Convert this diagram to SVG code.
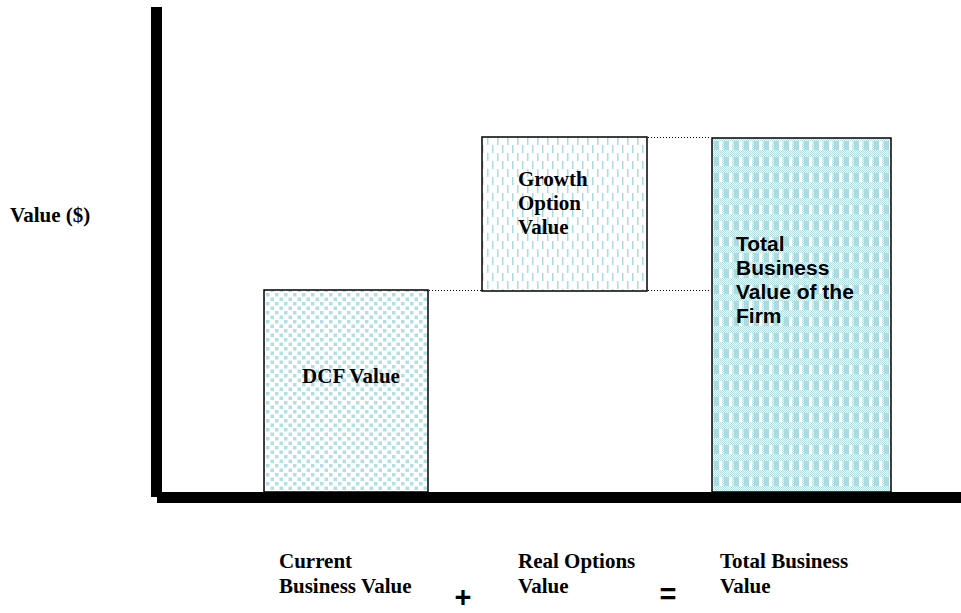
<svg xmlns="http://www.w3.org/2000/svg" width="961" height="613" viewBox="0 0 961 613">
<style>
.serif{font-family:"Liberation Serif","Times New Roman",serif;font-weight:bold;font-size:21px;fill:#000}
.sans{font-family:"Liberation Sans",Arial,sans-serif;font-weight:bold;font-size:21px;fill:#000}
.sym{font-family:"Liberation Sans",Arial,sans-serif;font-weight:bold;font-size:29px;fill:#000}
.box{stroke:#000;stroke-width:1.5}
.dot{stroke:#000;stroke-width:1;stroke-dasharray:1,2;fill:none}
</style>
<defs>
<pattern id="pDots" width="9" height="9" patternUnits="userSpaceOnUse">
<rect width="9" height="9" fill="#fff"/>
<rect x="0.5" y="0.5" width="3.5" height="3.5" fill="#b2dfe2"/>
<rect x="5" y="5" width="3.5" height="3.5" fill="#b2dfe2"/>
</pattern>
<pattern id="pDash" width="10" height="16" patternUnits="userSpaceOnUse">
<rect width="10" height="16" fill="#fff"/>
<rect x="2" y="1" width="1.5" height="8" fill="#a9dbe0"/>
<rect x="7" y="9" width="1.5" height="8" fill="#a9dbe0"/>
<rect x="7" y="-7" width="1.5" height="8" fill="#a9dbe0"/>
</pattern>
<pattern id="pCheck" width="2" height="2" patternUnits="userSpaceOnUse">
<rect width="2" height="2" fill="#fff"/>
<rect width="1" height="1" fill="#b2dfe2"/>
<rect x="1" y="1" width="1" height="1" fill="#b2dfe2"/>
</pattern>
<pattern id="pPlaid" x="712" y="138" width="10" height="16" patternUnits="userSpaceOnUse">
<rect width="10" height="16" fill="url(#pCheck)"/>
<rect x="2" y="3" width="5" height="9" fill="#a9dbe0"/>
<rect x="7" y="3" width="3" height="9" fill="#fff"/>
</pattern>
</defs>

<g id="axes">
<rect x="151" y="7" width="11" height="490" fill="#000"/>
<rect x="157" y="492" width="804" height="11" fill="#000"/>
</g>

<g id="connectors">
<line class="dot" x1="429" y1="290.5" x2="482" y2="290.5"/>
<line class="dot" x1="648" y1="137.5" x2="711" y2="137.5"/>
<line class="dot" x1="648" y1="290.5" x2="711" y2="290.5"/>
</g>

<g id="dcf">
<rect class="box" x="264" y="290" width="164" height="202" fill="url(#pDots)"/>
<text class="serif" x="351" y="383" text-anchor="middle">DCF Value</text>
</g>

<g id="growth">
<rect class="box" x="482" y="137" width="165" height="154" fill="url(#pDash)"/>
<text class="serif" x="518" y="186">Growth</text>
<text class="serif" x="518" y="210">Option</text>
<text class="serif" x="518" y="234">Value</text>
</g>

<g id="total">
<rect class="box" x="712" y="138" width="179" height="354" fill="url(#pPlaid)"/>
<text class="sans" x="736" y="251">Total</text>
<text class="sans" x="736" y="275">Business</text>
<text class="sans" x="736" y="299">Value of the</text>
<text class="sans" x="736" y="323">Firm</text>
</g>

<g id="labels">
<text class="serif" x="10" y="222">Value ($)</text>
<text class="serif" x="279" y="568">Current</text>
<text class="serif" x="279" y="593">Business Value</text>
<text class="sym" x="463" y="606.5" text-anchor="middle">+</text>
<text class="serif" x="518" y="568">Real Options</text>
<text class="serif" x="518" y="593">Value</text>
<text class="sym" x="668" y="604" text-anchor="middle">=</text>
<text class="serif" x="720" y="568">Total Business</text>
<text class="serif" x="720" y="593">Value</text>
</g>
</svg>
